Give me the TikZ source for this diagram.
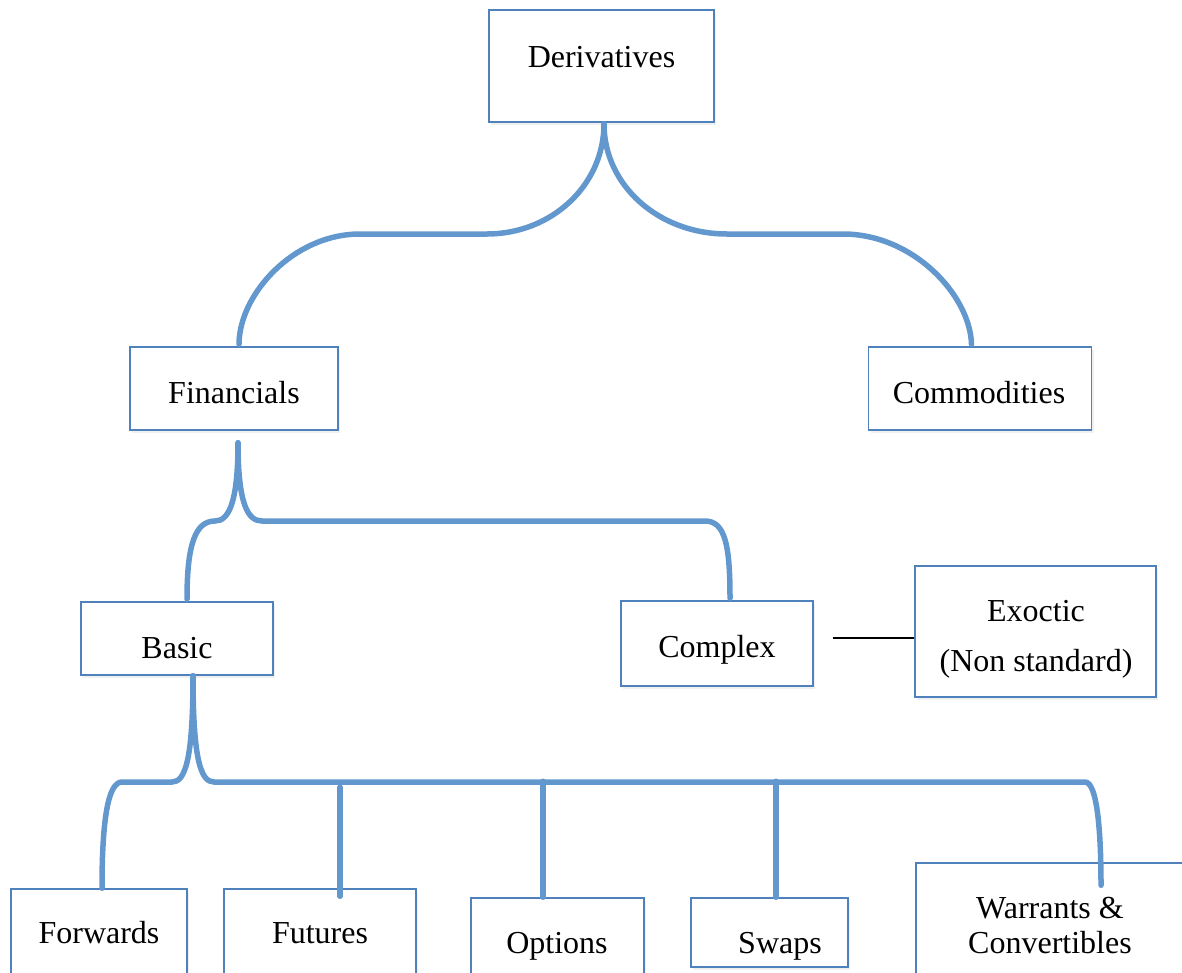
\documentclass[tikz,border=0pt]{standalone}
\usepackage{fontspec}
\setmainfont{Liberation Serif}
\usepackage{tikz}
\usetikzlibrary{positioning,shadows}
\definecolor{boxblue}{RGB}{79, 129, 189}
\definecolor{linkblue}{RGB}{99, 152, 206}
\tikzstyle{box} = [rectangle, draw=boxblue, line width=1.5pt, fill=white, inner sep=0pt, drop shadow={opacity=0.12, shadow xshift=2pt, shadow yshift=-3pt}]
\tikzstyle{txt} = [inner sep=0pt, anchor=base, text=black, font=\fontsize{32}{38}\selectfont]
\tikzstyle{link} = [draw=linkblue, line width=5.5pt, line cap=round]
\tikzstyle{plain} = [draw=black, line width=1.3pt]

\begin{document}
\begin{tikzpicture}[x=1pt, y=-1pt]
\useasboundingbox (0,0) rectangle (1182,972);

% boxes =============================

% top levels
\node[box, minimum width=225pt, minimum height=112pt] (der) at (601.5,66) {};
\node[box, minimum width=208pt, minimum height=83pt] (fin) at (234,388.5) {};
\node[box, minimum width=223pt, minimum height=83pt, right=529pt of fin] (com) {};

% basic / complex
\node[box, minimum width=192pt, minimum height=73pt] (bas) at (177,638.5) {};
\node[box, minimum width=192pt, minimum height=85pt] (cpx) at (717,643.5) {};
\node[box, minimum width=241pt, minimum height=131pt] (exo) at (1035.5,631.5) {};

% instruments
\node[box, minimum width=176pt, minimum height=96pt] (fwd) at (99,937) {};
\node[box, minimum width=192pt, minimum height=96pt] (fut) at (320,937) {};
\node[box, minimum width=173pt, minimum height=92pt] (opt) at (557.5,944) {};
\node[box, minimum width=157pt, minimum height=69pt] (swp) at (769.5,932.5) {};
\node[box, minimum width=279pt, minimum height=127pt] (war) at (1055.5,926.5) {};

% texts =============================
\node[txt] (dertx) at (601.5,67) {Derivatives};
\node[txt] (fintx) at (234,403) {Financials};
\node[txt] (comtx) at (979,403) {Commodities};
\node[txt] (bastx) at (177,658) {Basic};
\node[txt] (cpxtx) at (717,657) {Complex};
\node[txt] (exotx1) at (1036,621) {Exoctic};
\node[txt] (exotx2) at (1036,671) {(Non standard)};
\node[txt] (fwdtx) at (99,943) {Forwards};
\node[txt] (futtx) at (320,943) {Futures};
\node[txt] (opttx) at (557,953) {Options};
\node[txt] (swptx) at (780,953) {Swaps};
\node[txt] (wartx1) at (1050,918) {Warrants \&};
\node[txt] (wartx2) at (1050,953) {Convertibles};

% edges =============================

% derivatives -> financials, commodities
\path[link] ([shift={(2.5,1)}]der.south) .. controls +(0,62) and (551,234) .. (487,234)
  -- (360,234) .. controls (293,234) and (239,295) .. ([shift={(5,-2)}]fin.north);
\path[link] ([shift={(2.5,1)}]der.south) .. controls +(0,62) and (659,234) .. (727,234)
  -- (843,234) .. controls (913,234) and (970,295) .. ([shift={(-8.5,-2)}]com.north);

% financials -> basic, complex
\path[link] ([shift={(4,12)}]fin.south) .. controls +(0,62) and (228,521) .. (215,521)
  .. controls (195,521) and (187,545) .. ([shift={(10,-2)}]bas.north);
\path[link] ([shift={(4,12)}]fin.south) .. controls +(0,62) and (248,521) .. (262,521)
  -- (705,521) .. controls (725,521) and (730,545) .. ([shift={(13,-2)}]cpx.north);

% complex -> exoctic
\path[plain] ([shift={(19,-5.5)}]cpx.east) -- ([shift={(0,6.5)}]exo.west);

% basic -> instruments
\path[link] ([shift={(16,0)}]bas.south) .. controls +(0,85) and (185,782) .. (172,782)
  -- (122,782) .. controls (108,782) and (102,820) .. ([shift={(3,0)}]fwd.north);
\path[link] ([shift={(16,0)}]bas.south) .. controls +(0,85) and (201,782) .. (214,782)
  -- (1085,782) .. controls (1097,782) and (1101,830) .. ([shift={(45.5,23)}]war.north);
\path[link] ([shift={(20,-101)}]fut.north) -- ([shift={(20,8)}]fut.north);
\path[link] ([shift={(-14.5,-116)}]opt.north) -- ([shift={(-14.5,0)}]opt.north);
\path[link] ([shift={(6.5,-116)}]swp.north) -- ([shift={(6.5,0)}]swp.north);

\end{tikzpicture}
\end{document}
